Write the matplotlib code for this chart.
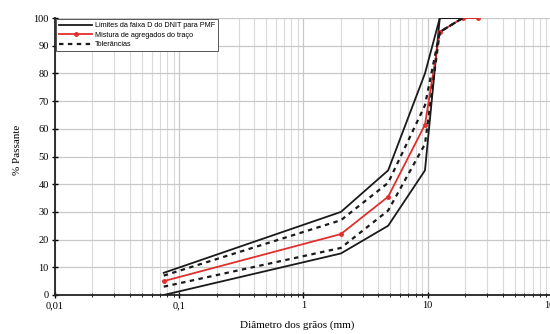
"""Curva granulométrica: mistura de agregados x faixa D do DNIT (PMF)"""

import matplotlib

matplotlib.use("Agg")
import matplotlib.pyplot as plt
from matplotlib.ticker import FixedLocator, LogLocator, NullFormatter

# Peneiras (mm)
peneiras = [0.075, 2.0, 4.8, 9.5, 12.5, 19.1]
peneiras_mistura = [0.075, 2.0, 4.8, 9.5, 12.5, 19.1, 25.4]

# Limites da faixa D (% passante)
limite_sup = [8, 30, 45, 80, 100, 100]
limite_inf = [0, 15, 25, 45, 100, 100]

# Mistura do traço e tolerâncias
mistura = [5, 22, 35.5, 61.5, 95, 100, 100]
tol_sup = [7, 27, 40.5, 68.5, 95, 100]
tol_inf = [3, 17, 30.5, 54.5, 95, 100]

x_ticks = [0.01, 0.1, 1, 10, 100]
x_tick_labels = ["0,01", "0,1", "1", "10", "100"]
y_ticks = list(range(0, 101, 10))

serif = ["Liberation Serif", "DejaVu Serif"]

fig = plt.figure(figsize=(5.5, 3.34), dpi=100)
ax = fig.add_axes([0.1, 0.1168, 0.9036, 0.829])

ax.set_xscale("log")
ax.set_xlim(0.01, 100)
ax.set_ylim(0, 100)

# Grade
ax.xaxis.set_minor_locator(LogLocator(base=10, subs=range(2, 10)))
ax.xaxis.set_minor_formatter(NullFormatter())
ax.grid(True, which="major", axis="both", color="#c8c8c8", linewidth=0.9, zorder=0)
ax.grid(True, which="minor", axis="x", color="#dadada", linewidth=0.8, zorder=0)

# Curvas
ax.plot(peneiras, limite_sup, color="#1a1a1a", linewidth=1.3, zorder=3,
        label="Limites da faixa D do DNIT para PMF")
ax.plot(peneiras, limite_inf, color="#1a1a1a", linewidth=1.3, zorder=3)
ax.plot(peneiras_mistura, mistura, color="#e0302e", linewidth=1.3, marker="o",
        markersize=2.5, zorder=4, label="Mistura de agregados do traço")
ax.plot(peneiras, tol_sup, color="#1a1a1a", linewidth=1.6, linestyle=(0, (2, 2)),
        zorder=5, label="Tolerâncias")
ax.plot(peneiras, tol_inf, color="#1a1a1a", linewidth=1.6, linestyle=(0, (2, 2)),
        zorder=5)

# Eixos
ax.xaxis.set_major_locator(FixedLocator(x_ticks))
ax.set_xticklabels(x_tick_labels, fontfamily=serif, fontsize=7.5)
ax.set_yticks(y_ticks)
ax.set_yticklabels([str(v) for v in y_ticks], fontfamily=serif, fontsize=7.5)
ax.tick_params(axis="both", which="major", direction="inout", length=5, width=1, pad=2)
ax.tick_params(axis="x", which="minor", direction="inout", length=3, width=0.6)

for side in ["top", "right"]:
    ax.spines[side].set_visible(False)
for side in ["left", "bottom"]:
    ax.spines[side].set_linewidth(1.3)
    ax.spines[side].set_color("#222222")

ax.set_xlabel("Diâmetro dos grãos (mm)", fontfamily=serif, fontsize=8)
ax.set_ylabel("% Passante", fontfamily=serif, fontsize=8)
# posição dos rótulos como na figura original
ax.xaxis.set_label_coords((297 - 55) / 497, -(325 - 295) / 277, transform=ax.transAxes)
ax.yaxis.set_label_coords(-(55 - 17) / 497, (295 - 150) / 277, transform=ax.transAxes)
ax.xaxis.label.set_va("center")
ax.yaxis.label.set_va("center")

leg = ax.legend(loc="upper left", prop={"family": "Liberation Sans", "size": 5.2},
                frameon=True, fancybox=False, edgecolor="#555555", framealpha=1,
                borderaxespad=0.15, handlelength=4.6, borderpad=0.4,
                labelspacing=0.35, handletextpad=0.4)
leg.get_frame().set_linewidth(0.7)

fig.savefig("out.png", dpi=100)
